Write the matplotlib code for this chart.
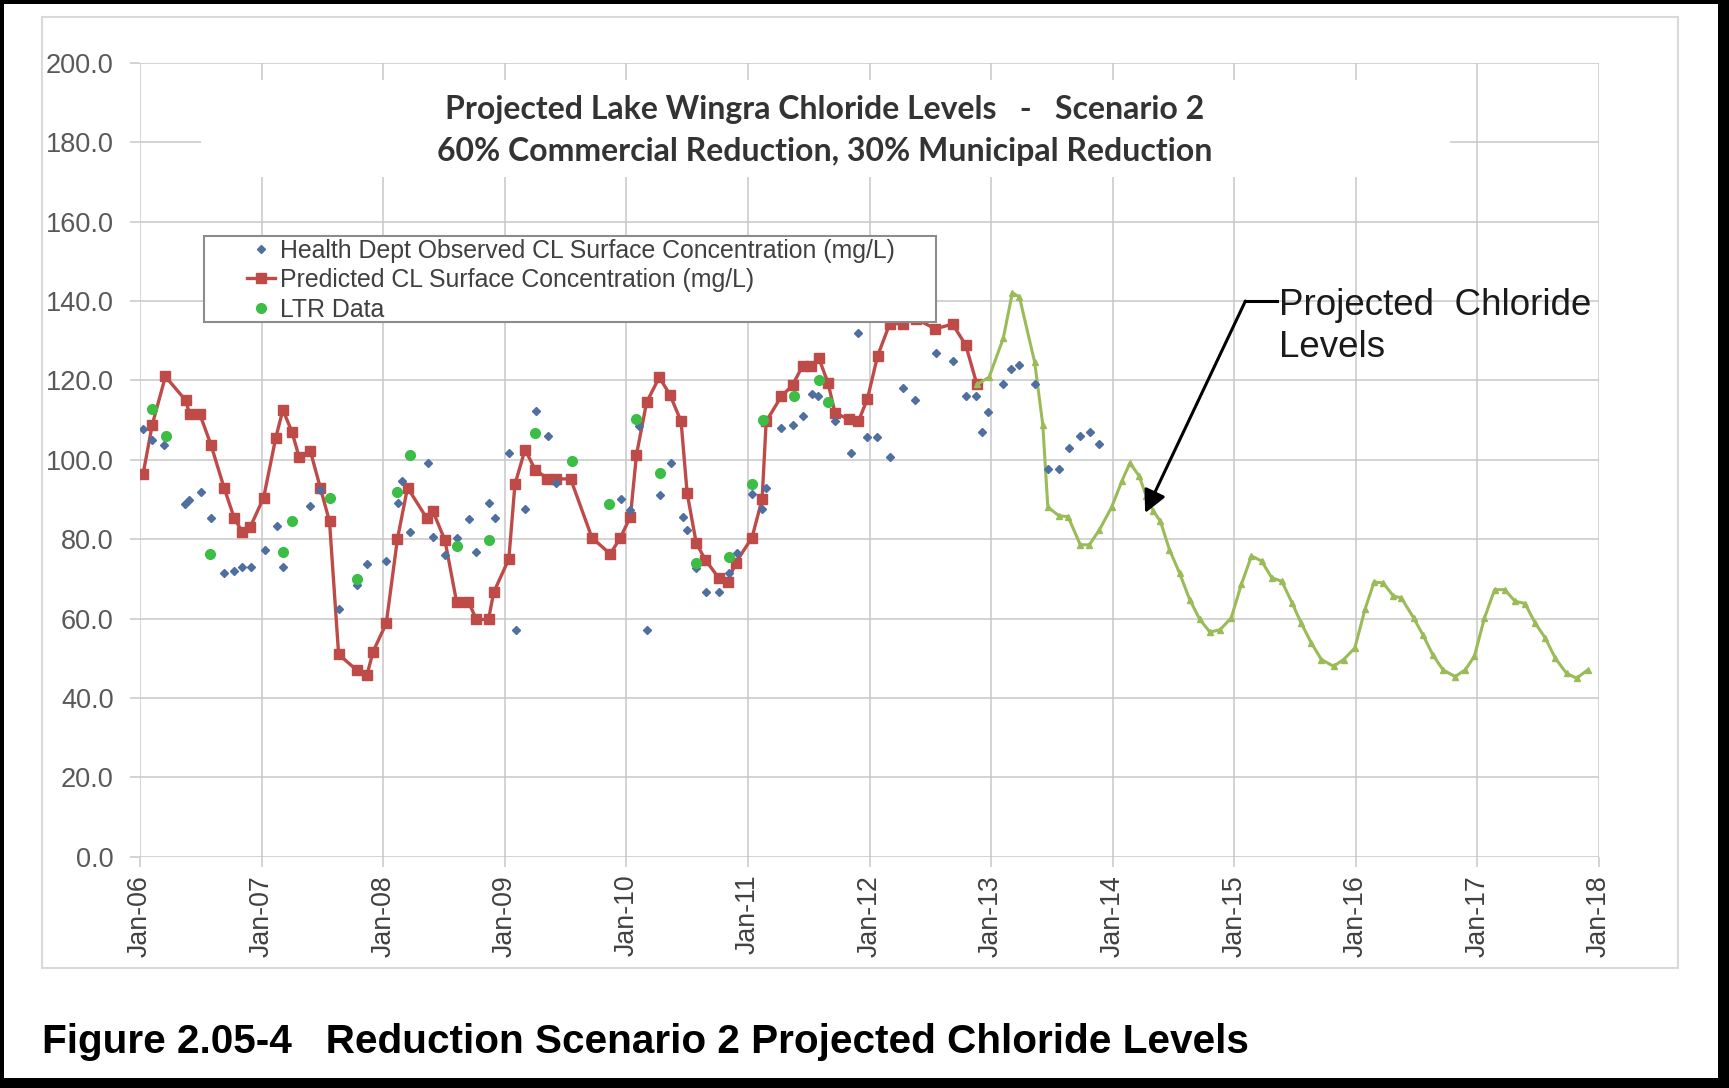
import matplotlib
matplotlib.use('Agg')
import matplotlib.pyplot as plt
from matplotlib.patches import Rectangle
from matplotlib.lines import Line2D

# x values are months since Jan-2006
pred_month = [0.3, 1.2, 2.5, 4.5, 4.9, 5.9, 7.0, 8.3, 9.3, 10.1, 10.9, 12.2, 13.4, 14.1, 15.0, 15.7,
              16.8, 17.8, 18.7, 19.6, 21.4, 22.4, 23.0, 24.3, 25.4, 26.4, 28.3, 28.9, 30.1, 31.25,
              32.4, 33.2, 34.4, 34.9, 36.4, 37.0, 38.0, 39.0, 40.2, 41.1, 42.5, 44.6, 46.4, 47.4,
              48.4, 49.0, 50.0, 51.25, 52.3, 53.4, 54.0, 54.9, 55.8, 57.1, 58.0, 58.8, 60.4, 61.4,
              61.8, 63.3, 64.4, 65.4, 66.2, 67.0, 67.9, 68.6, 70.0, 70.9, 71.8, 72.8, 74.0, 75.3,
              76.6, 78.5, 80.2, 81.5, 82.6]
pred_cl = [96.4, 108.8, 121.0, 115.0, 111.5, 111.5, 103.8, 92.9, 85.3, 81.8, 83.2, 90.5, 105.6, 112.6,
           107.0, 100.7, 102.3, 92.9, 84.5, 51.0, 47.0, 45.8, 51.7, 58.8, 80.0, 93.0, 85.3, 87.1,
           79.7, 64.1, 64.3, 59.8, 59.8, 66.6, 75.0, 93.8, 102.6, 97.5, 95.3, 95.2, 95.2, 80.4,
           76.3, 80.3, 85.7, 101.3, 114.5, 120.8, 116.4, 109.7, 91.6, 79.0, 74.8, 70.3, 69.3, 74.1,
           80.4, 90.1, 109.7, 116.0, 118.8, 123.7, 123.6, 125.6, 119.4, 111.8, 110.2, 109.7, 115.4,
           126.2, 134.3, 134.3, 135.5, 133.0, 134.2, 128.9, 119.0]

proj_month = [82.6, 83.8, 85.2, 86.1, 86.8, 88.3, 89.1, 89.6, 90.7, 91.6, 92.8, 93.7, 94.7, 95.9,
              96.9, 97.7, 98.6, 99.3, 100.0, 100.7, 101.6, 102.6, 103.6, 104.6, 105.6, 106.6, 107.7,
              108.7, 109.7, 110.7, 111.7, 112.7, 113.7, 114.6, 115.6, 116.6, 117.8, 118.8, 119.9,
              120.9, 121.8, 122.7, 123.7, 124.5, 125.7, 126.6, 127.6, 128.6, 129.8, 130.8, 131.7,
              132.7, 133.7, 134.7, 135.7, 136.7, 137.7, 138.7, 139.7, 140.8, 141.8, 142.9]
proj_cl = [119.0, 120.8, 130.6, 142.1, 141.0, 124.6, 108.9, 88.1, 85.9, 85.7, 78.6, 78.6, 82.4, 88.1,
           94.6, 99.2, 96.0, 91.0, 87.1, 84.6, 77.4, 71.5, 64.8, 59.8, 56.6, 57.2, 60.2, 68.6, 75.8,
           74.5, 70.3, 69.4, 64.0, 58.9, 53.9, 49.7, 48.0, 49.7, 52.6, 62.3, 69.2, 69.0, 65.7, 65.2,
           60.2, 56.0, 50.9, 47.1, 45.4, 47.1, 50.5, 60.2, 67.3, 67.3, 64.4, 63.8, 58.9, 55.1, 50.0,
           46.2, 45.0, 47.1]

obs_month = [0.3, 1.2, 2.4, 4.4, 4.8, 6.0, 7.0, 8.3, 9.3, 10.1, 11.0, 12.3, 13.5, 14.1, 16.8, 17.8,
             19.6, 21.4, 22.4, 24.3, 25.5, 25.9, 26.6, 28.4, 28.9, 30.1, 31.3, 32.5, 33.2, 34.4, 35.0,
             36.4, 37.1, 38.0, 39.1, 40.3, 41.1, 47.5, 48.4, 49.2, 50.0, 51.3, 52.4, 53.6, 54.0, 54.9,
             55.9, 57.1, 58.1, 58.9, 60.4, 61.4, 61.8, 63.3, 64.4, 65.4, 66.3, 66.9, 68.6, 70.2, 70.9,
             71.8, 72.7, 74.0, 75.3, 76.5, 78.6, 80.2, 81.5, 82.5, 83.1, 83.7, 85.2, 86.0, 86.8, 88.3,
             89.6, 90.7, 91.7, 92.8, 93.8, 94.7]
obs_cl = [107.7, 104.9, 103.8, 88.9, 89.9, 92.0, 85.3, 71.4, 72.1, 72.9, 72.9, 77.3, 83.4, 72.9, 88.4,
          92.3, 62.4, 68.5, 73.8, 74.6, 89.1, 94.7, 81.7, 99.3, 80.5, 76.1, 80.3, 85.1, 76.9, 89.2,
          85.3, 101.8, 57.1, 87.6, 112.2, 105.9, 94.1, 90.1, 87.4, 108.4, 57.1, 91.2, 99.2, 85.7, 82.4,
          72.7, 66.6, 66.8, 71.4, 76.6, 91.4, 87.6, 92.9, 107.9, 108.8, 111.1, 116.7, 116.0, 109.8,
          101.8, 132.0, 105.8, 105.8, 100.8, 118.1, 115.0, 126.9, 124.8, 116.0, 116.0, 107.0, 112.0,
          119.1, 123.0, 124.0, 119.1, 97.6, 97.6, 103.1, 106.0, 107.1, 104.1]

ltr_month = [1.2, 2.6, 6.9, 14.1, 15.0, 18.7, 21.4, 25.4, 26.6, 31.3, 34.4, 39.0, 42.6, 46.3, 49.0,
             51.3, 54.9, 58.1, 60.4, 61.5, 64.5, 67.0, 67.9]
ltr_cl = [112.8, 105.9, 76.3, 76.9, 84.5, 90.3, 69.9, 91.8, 101.3, 78.3, 79.8, 106.8, 99.7, 88.9,
          110.3, 96.8, 73.9, 75.5, 93.9, 110.0, 116.0, 120.0, 114.5]

tick_months = list(range(0, 145, 12))
tick_labels = ['Jan-06', 'Jan-07', 'Jan-08', 'Jan-09', 'Jan-10', 'Jan-11', 'Jan-12',
               'Jan-13', 'Jan-14', 'Jan-15', 'Jan-16', 'Jan-17', 'Jan-18']
y_ticks = list(range(0, 201, 20))

RED = '#be4b48'
BLUE = '#4f6fa0'
LTR_GREEN = '#3cbe46'
PROJ_GREEN = '#9bbb59'
GRID = '#c8c8c8'

plt.rcParams['font.family'] = ['Liberation Sans', 'DejaVu Sans']

fig = plt.figure(figsize=(17.29, 10.88), dpi=100)
fig.patch.set_facecolor('black')
# white page inside the black border
fig.patches.append(Rectangle((0.0023, 0.0092), 0.9913, 0.9871, transform=fig.transFigure,
                             facecolor='white', edgecolor='none', zorder=-1))
# light grey chart frame
fig.patches.append(Rectangle((0.0243, 0.1103), 0.9462, 0.8745, transform=fig.transFigure,
                             facecolor='none', edgecolor='#d9d9d9', lw=1.5, zorder=-0.5))

ax = fig.add_axes([0.081, 0.2125, 0.8438, 0.7297])
ax.set_xlim(0, 144)
ax.set_ylim(0, 200)
ax.set_xticks(tick_months)
ax.set_xticklabels(tick_labels, rotation=90, fontsize=19.3, color='#404040')
ax.set_yticks(y_ticks)
ax.set_yticklabels(['%.1f' % v for v in y_ticks], fontsize=19.5, color='#595959')
ax.tick_params(length=7, width=1.1, color=GRID)
ax.tick_params(axis='x', pad=6)
ax.tick_params(axis='y', pad=12)
ax.grid(True, color=GRID, lw=1.1)
ax.set_axisbelow(True)
for s in ax.spines.values():
    s.set_visible(False)

# white box behind the chart title
ax.add_patch(Rectangle((0.042, 0.856), 0.856, 0.122, transform=ax.transAxes,
                       facecolor='white', edgecolor='none', zorder=1))
ax.text(0.469, 0.9407, 'Projected Lake Wingra Chloride Levels   -   Scenario 2',
        transform=ax.transAxes, ha='center', va='center', fontsize=23, fontweight='bold',
        family=['Lato', 'DejaVu Sans'], color='#333333', zorder=3)
ax.text(0.469, 0.889, '60% Commercial Reduction, 30% Municipal Reduction',
        transform=ax.transAxes, ha='center', va='center', fontsize=23, fontweight='bold',
        family=['Lato', 'DejaVu Sans'], color='#333333', zorder=3)

# series
ax.plot(pred_month, pred_cl, color=RED, lw=2.4, marker='s', ms=7, zorder=3)
ax.plot(proj_month, proj_cl, color=PROJ_GREEN, lw=2.2, marker='^', ms=4, zorder=3)
ax.plot(obs_month, obs_cl, ls='none', marker='D', ms=4.5, color=BLUE, zorder=4)
ax.plot(ltr_month, ltr_cl, ls='none', marker='o', ms=7, color=LTR_GREEN, zorder=4)

# annotation
ax.plot([112.2, 109.1], [140, 140], color='black', lw=2.2, zorder=5)
ax.annotate('', xy=(99.2, 86.6), xytext=(109.1, 140),
            arrowprops=dict(arrowstyle='-|>', color='black', lw=2.2, mutation_scale=34,
                            shrinkA=0, shrinkB=0), zorder=5)
ax.text(112.4, 135.6, 'Projected  Chloride\nLevels', ha='left', va='center_baseline',
        fontsize=26.5, color='#1a1a1a', linespacing=1.28, zorder=5)

# legend with its own box
ax.add_patch(Rectangle((0.118, 0.704), 0.4234, 0.079, transform=fig.transFigure,
                       facecolor='white', edgecolor='#8c8c8c', lw=1.5, zorder=6, clip_on=False))
handles = [Line2D([], [], ls='none', marker='D', ms=4.5, color=BLUE),
           Line2D([], [], color=RED, lw=2.4, marker='s', ms=7),
           Line2D([], [], ls='none', marker='o', ms=7, color=LTR_GREEN)]
labels = ['Health Dept Observed CL Surface Concentration (mg/L)',
          'Predicted CL Surface Concentration (mg/L)',
          'LTR Data']
leg = ax.legend(handles, labels, loc='upper left', bbox_to_anchor=(0.1427, 0.7806),
                bbox_transform=fig.transFigure, frameon=False, borderpad=0, borderaxespad=0,
                fontsize=17.9, handlelength=1.15, handletextpad=0.2, labelspacing=0.22)
for t in leg.get_texts():
    t.set_color('#404040')
leg.set_zorder(7)

fig.text(0.0243, 1 - 1042 / 1088, 'Figure 2.05-4   Reduction Scenario 2 Projected Chloride Levels',
         ha='left', va='center', fontsize=29.2, fontweight='bold', color='black')

fig.savefig('out.png', dpi=100)
